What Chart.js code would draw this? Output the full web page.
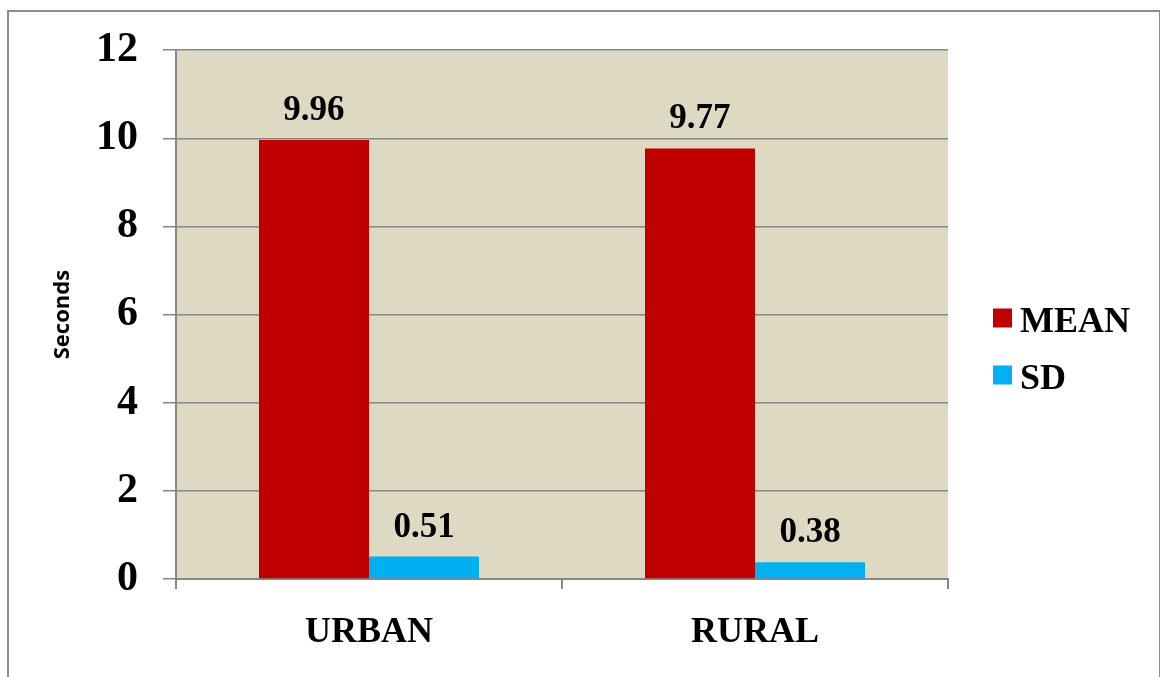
<!DOCTYPE html>
<html>
<head>
<meta charset="utf-8">
<script src="https://cdn.jsdelivr.net/npm/chart.js@4/dist/chart.umd.min.js"></script>
<style>
  html, body { margin: 0; padding: 0; background: #fff; }
  #wrap { position: relative; width: 1160px; height: 677px; overflow: hidden; }
  #frame { position: absolute; left: 7px; top: 10px; width: 1150px; height: 720px; border: 2px solid #8c8c8c; pointer-events: none; }
  #chart { position: absolute; left: 0; top: 0; }
</style>
</head>
<body>
<div id="wrap">
  <canvas id="chart" width="1160" height="677"></canvas>
  <div id="frame"></div>
</div>
<script>
const categories = ['URBAN', 'RURAL'];
const meanValues = [9.96, 9.77];
const sdValues = [0.51, 0.38];
const yTicks = [0, 2, 4, 6, 8, 10, 12];

const serif = "'Liberation Serif', 'Times New Roman', serif";
const gridGray = '#878787';

// plot area background
const plotBg = {
  id: 'plotBg',
  beforeDraw(chart) {
    const {ctx, chartArea: a} = chart;
    ctx.save();
    ctx.fillStyle = '#ddd9c3';
    ctx.fillRect(a.left, a.top, a.right - a.left, a.bottom - a.top);
    ctx.restore();
  }
};

// value above each bar
const barValues = {
  id: 'barValues',
  afterDatasetsDraw(chart) {
    const ctx = chart.ctx;
    ctx.save();
    ctx.font = 'bold 35px ' + serif;
    ctx.fillStyle = '#000';
    ctx.textAlign = 'center';
    ctx.textBaseline = 'alphabetic';
    chart.data.datasets.forEach((ds, i) => {
      chart.getDatasetMeta(i).data.forEach((bar, j) => {
        ctx.fillText(ds.data[j].toFixed(2), bar.x, bar.y - 20);
      });
    });
    ctx.restore();
  }
};

// legend on the right
const sideLegend = {
  id: 'sideLegend',
  afterDraw(chart) {
    const ctx = chart.ctx;
    ctx.save();
    ctx.font = 'bold 36px ' + serif;
    ctx.textAlign = 'left';
    ctx.textBaseline = 'alphabetic';
    chart.data.datasets.forEach((ds, i) => {
      const cy = 318 + i * 57;
      ctx.fillStyle = ds.backgroundColor;
      ctx.fillRect(993, cy - 9.5, 19, 19);
      ctx.fillStyle = '#000';
      ctx.fillText(ds.label, 1020, cy + 14);
    });
    ctx.restore();
  }
};

new Chart(document.querySelector('#chart'), {
  type: 'bar',
  data: {
    labels: categories,
    datasets: [
      {
        label: 'MEAN',
        data: meanValues,
        backgroundColor: '#c00000'
      },
      {
        label: 'SD',
        data: sdValues,
        backgroundColor: '#00b0f0'
      }
    ]
  },
  options: {
    responsive: false,
    animation: false,
    categoryPercentage: 0.57,
    barPercentage: 1.0,
    layout: { padding: { left: 0, top: 48, right: 212, bottom: 0 } },
    plugins: {
      legend: { display: false },
      tooltip: { enabled: false }
    },
    scales: {
      x: {
        afterFit: (s) => { s.height = 98; },
        grid: { drawOnChartArea: false, drawTicks: true, tickLength: 10, color: gridGray, lineWidth: 2 },
        border: { display: true, color: gridGray, width: 2 },
        ticks: { color: '#000', padding: 22, font: { family: serif, size: 36, weight: 'bold' } }
      },
      y: {
        min: 0,
        max: 12,
        afterFit: (s) => { s.width = 176; },
        afterBuildTicks: (s) => { s.ticks = yTicks.map(v => ({ value: v })); },
        grid: { color: gridGray, lineWidth: 1.5, drawTicks: true, tickLength: 13 },
        border: { display: true, color: gridGray, width: 2 },
        ticks: { color: '#000', padding: 25, font: { family: serif, size: 42, weight: 'bold' } },
        title: {
          display: true,
          text: 'Seconds',
          color: '#000',
          padding: { top: 50, bottom: 0 },
          font: { family: "'Open Sans', sans-serif", size: 22, weight: 'bold' }
        }
      }
    }
  },
  plugins: [plotBg, barValues, sideLegend]
});
</script>
</body>
</html>
